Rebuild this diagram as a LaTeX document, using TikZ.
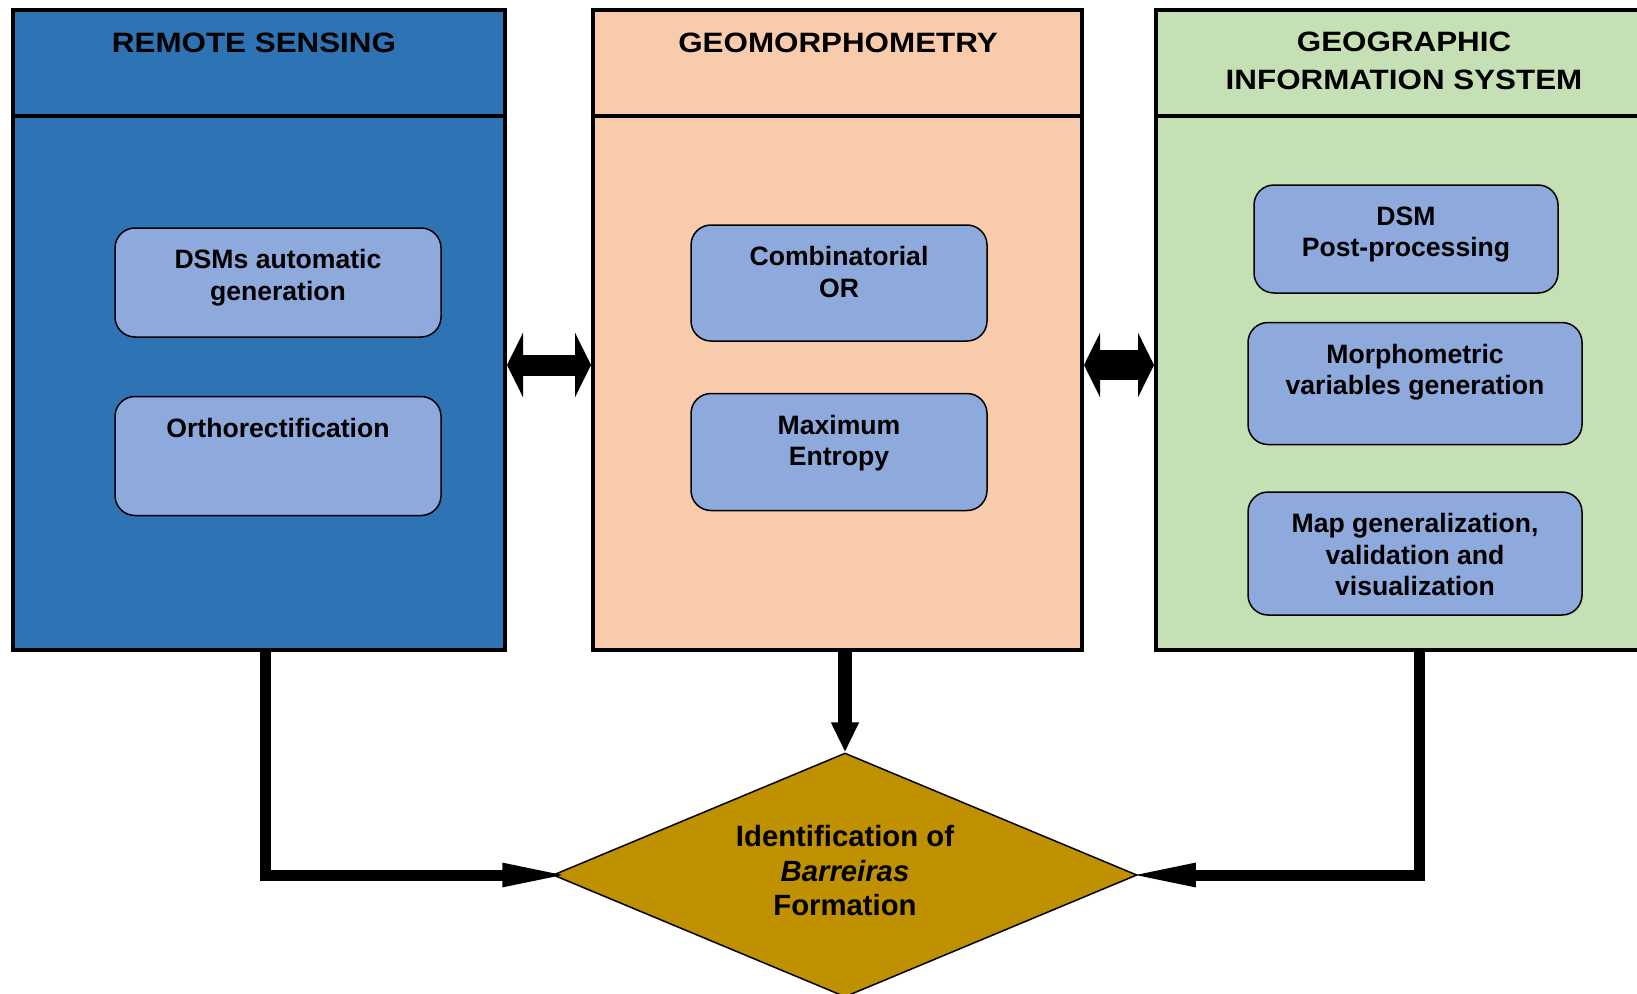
\documentclass[tikz,border=0pt]{standalone}
\usepackage{fontspec}
\setmainfont{Liberation Sans}
\newfontfamily\headfont[FakeStretch=1.12]{Liberation Sans}
\usetikzlibrary{positioning,shapes.geometric,arrows.meta}

\definecolor{rsblue}{HTML}{2E74B5}
\definecolor{geopeach}{HTML}{F8CBAD}
\definecolor{gisgreen}{HTML}{C5E0B4}
\definecolor{itemblue}{HTML}{8EA9DB}
\definecolor{diamgold}{HTML}{BF9000}

\begin{document}
\begin{tikzpicture}[x=1pt,y=-1pt,
  panel/.style={draw,line width=4pt,inner sep=0pt,minimum height=640pt},
  head/.style={inner sep=0pt,align=center,font=\headfont\bfseries\fontsize{28}{38}\selectfont},
  item/.style={draw,line width=1.5pt,rounded corners=20pt,fill=itemblue,inner sep=0pt},
  itemtxt/.style={inner sep=0pt,align=center,font=\bfseries\fontsize{26.6}{31.5}\selectfont},
  flow/.style={line width=11pt,line join=miter,-{Triangle[length=70pt,width=21pt]}},
  link/.style={line width=#1,{Triangle[length=16pt,width=64pt]}-{Triangle[length=16pt,width=64pt]}}]
\useasboundingbox (0,0) rectangle (1637,993);

% the three panels
\node[panel,fill=rsblue,minimum width=492pt] (rs) at (259,330) {};
\node[panel,fill=geopeach,minimum width=489pt] (geo) at (837.5,330) {};
\node[panel,fill=gisgreen,minimum width=495pt] (gis) at (1403.5,330) {};
\foreach \p in {rs,geo,gis} {
  \draw[line width=4pt] ([yshift=-108pt]\p.north west) -- ([yshift=-108pt]\p.north east);
}
\node[head,anchor=north] (rshead) at (254,33) {REMOTE SENSING};
\node[head,anchor=north] (geohead) at (838,33) {GEOMORPHOMETRY};
\node[head,anchor=north] (gishead) at (1404,32) {GEOGRAPHIC\\INFORMATION SYSTEM};

% steps
\node[item,minimum width=326pt,minimum height=109pt] (dsmgen) at (278,282.5) {};
\node[item,minimum width=326pt,minimum height=119pt,below=58pt of dsmgen] (ortho) {};
\node[item,minimum width=296pt,minimum height=116pt] (comb) at (839,283) {};
\node[item,minimum width=296pt,minimum height=117pt,below=51pt of comb] (maxent) {};
\node[item,minimum width=304pt,minimum height=108pt] (dsmpost) at (1406,239) {};
\node[item,minimum width=334pt,minimum height=122pt,below=28pt of dsmpost,xshift=9pt] (morpho) {};
\node[item,minimum width=334pt,minimum height=123pt,below=46pt of morpho] (mapgen) {};
\foreach \b/\t in {dsmgen/{DSMs automatic\\generation},ortho/{Orthorectification},
    comb/{Combinatorial\\OR},maxent/{Maximum\\Entropy},dsmpost/{DSM\\Post-processing},
    morpho/{Morphometric\\variables generation},mapgen/{Map generalization,\\validation and\\visualization}} {
  \node[itemtxt,below=22pt of \b.north] (\b-txt) {\t};
}

% result
\node[diamond,draw,line width=1.5pt,fill=diamgold,minimum width=584pt,minimum height=244pt,aspect=2.4,inner sep=0pt] (barreiras) at (845,875) {};
\node[align=center,inner sep=0pt,font=\bfseries\fontsize{29.3}{34.5}\selectfont] (barreiras-txt)
  at ([yshift=4pt]barreiras.center) {Identification of\\\textit{Barreiras}\\Formation};

\draw[link=21pt] ([yshift=-35pt]rs.east) -- ([yshift=-35pt]geo.west);
\draw[link=30pt] ([yshift=-35pt]geo.east) -- ([yshift=-35pt]gis.west);
\draw[flow] ([xshift=6pt]rs.south) |- ([xshift=20pt]barreiras.west);
\draw[flow] ([xshift=16pt]gis.south) |- ([xshift=-12pt]barreiras.east);
\draw[flow,line width=14pt,-{Triangle[length=30pt,width=26pt]}] (geo.south -| barreiras.north) -- (barreiras.north);
\end{tikzpicture}
\end{document}
